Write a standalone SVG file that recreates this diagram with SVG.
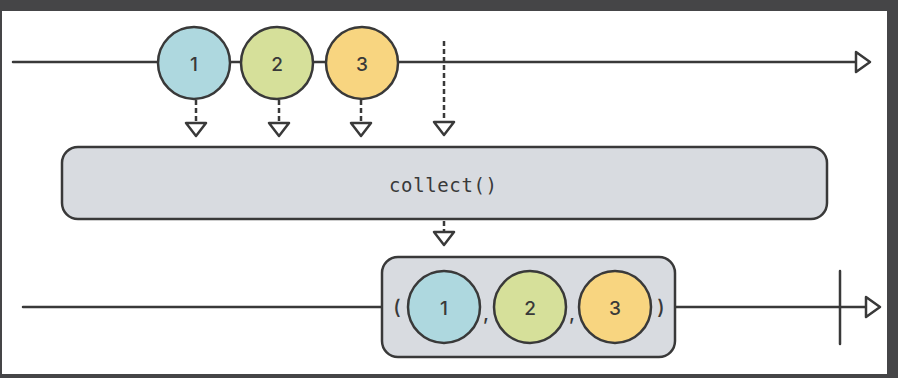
<svg xmlns="http://www.w3.org/2000/svg" width="898" height="378" viewBox="0 0 898 378">
<defs>
<style>
.line{stroke:#393939;stroke-width:2.5;fill:none;stroke-linecap:round}
.dash{stroke:#393939;stroke-width:2.5;fill:none;stroke-dasharray:5 3}
.tri{stroke:#393939;stroke-width:2.5;fill:#fff;stroke-linejoin:round}
.c{stroke:#393939;stroke-width:2.5}
.box{fill:#d8dbe0;stroke:#393939;stroke-width:2.5}
.num{font-family:Inter,"Noto Sans",sans-serif;font-size:19px;font-weight:500;fill:#393939;text-anchor:middle}
.mono{font-family:"DejaVu Sans Mono",monospace;font-size:19px;fill:#393939;text-anchor:middle}
.punct{font-family:Inter,"Noto Sans",sans-serif;font-size:20px;font-weight:500;fill:#393939;text-anchor:middle}
.blue{fill:#aed8df}.green{fill:#d6e09a}.yellow{fill:#f8d580}
</style>
</defs>
<rect x="0" y="0" width="898" height="378" fill="#454547"/>
<rect x="2" y="11" width="885" height="363" fill="#ffffff"/>
<g id="connectors">
<line class="line" x1="13" y1="62" x2="856" y2="62"/>
<path class="tri" d="M856 52 L870 62 L856 72 Z"/>
<line class="dash" x1="196" y1="100" x2="196" y2="122"/>
<path class="tri" d="M186 123 L206 123 L196 136 Z"/>
<line class="dash" x1="279" y1="100" x2="279" y2="122"/>
<path class="tri" d="M269 123 L289 123 L279 136 Z"/>
<line class="dash" x1="361" y1="100" x2="361" y2="122"/>
<path class="tri" d="M351 123 L371 123 L361 136 Z"/>
<line class="dash" x1="444" y1="41" x2="444" y2="122"/>
<path class="tri" d="M434 122 L454 122 L444 135 Z"/>
<line class="dash" x1="444" y1="221" x2="444" y2="231"/>
<path class="tri" d="M434 232 L454 232 L444 245 Z"/>
<line class="line" x1="23" y1="307" x2="866" y2="307"/>
<path class="tri" d="M866 297 L880 307 L866 317 Z"/>
<line class="line" x1="840" y1="271" x2="840" y2="344"/>
</g>
<g id="item1"><circle class="c blue" cx="194" cy="63" r="36"/><text class="num" x="194" y="71">1</text></g>
<g id="item2"><circle class="c green" cx="277" cy="63" r="36"/><text class="num" x="277" y="71">2</text></g>
<g id="item3"><circle class="c yellow" cx="362" cy="63" r="36"/><text class="num" x="362" y="71">3</text></g>
<g id="collect"><rect class="box" x="62" y="147" width="765" height="72" rx="16"/><text class="mono" x="443" y="192" textLength="108" lengthAdjust="spacing">collect()</text></g>
<g id="result">
<rect class="box" x="382" y="257" width="293" height="100" rx="16"/>
<text class="punct" x="397" y="314">(</text>
<circle class="c blue" cx="444" cy="307" r="36"/><text class="num" x="444" y="315">1</text>
<text class="punct" x="486" y="320">,</text>
<circle class="c green" cx="530" cy="307" r="36"/><text class="num" x="530" y="315">2</text>
<text class="punct" x="572" y="320">,</text>
<circle class="c yellow" cx="615" cy="307" r="36"/><text class="num" x="615" y="315">3</text>
<text class="punct" x="661" y="314">)</text>
</g>
</svg>
